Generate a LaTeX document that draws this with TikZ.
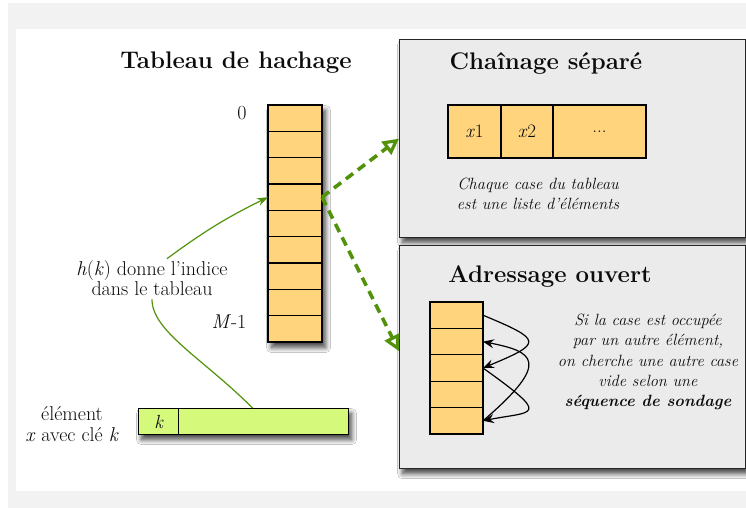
\documentclass[tikz,border=0pt]{standalone}
\usetikzlibrary{arrows.meta,shadows.blur,calc}

\definecolor{cellfill}{RGB}{255,212,125}
\definecolor{keyfill}{RGB}{213,249,122}
\definecolor{panelfill}{RGB}{235,235,235}
\definecolor{framegrey}{RGB}{242,242,242}
\definecolor{linkgreen}{RGB}{82,146,10}
\definecolor{ink}{RGB}{12,12,12}

\begin{document}
\begin{tikzpicture}[x=1pt,y=-1pt,
  softshadow/.style={blur shadow={shadow xshift=3pt, shadow yshift=-5pt,
      shadow blur radius=5pt, shadow blur steps=10, shadow opacity=75}},
  cellbox/.style={draw=black, line width=1.1pt, fill=cellfill, inner sep=0pt,
      outer sep=0pt, anchor=north west, minimum width=53pt},
  panelbox/.style={draw=black!85, line width=1.3pt, fill=panelfill, inner sep=0pt,
      anchor=north west, softshadow},
  titletext/.style={text=ink, font=\fontsize{24}{28}\selectfont\bfseries},
  bodytext/.style={text=ink, align=center, font=\fontsize{20}{20.5}\selectfont},
  notetext/.style={text=ink, align=center, font=\fontsize{16.3}{20.2}\selectfont\itshape},
  dashlink/.style={draw=linkgreen, line width=3.6pt, dash pattern=on 9pt off 6pt,
      -{Triangle[open, length=16pt, width=16pt, line width=3.2pt]}},
  hashlink/.style={draw=linkgreen, line width=1.2pt},
  probe/.style={draw=black, line width=1.2pt,
      -{Stealth[length=11pt, width=9pt, inset=4pt]}},
  ]

  % page frame
  \useasboundingbox (0,0) rectangle (746,508);
  \fill[white] (0,0) rectangle (746,508);
  \fill[framegrey] (8,3) rectangle (746,508);
  \fill[white] (16,29) rectangle (746,491);

  % ---------- hash table ----------
  \node[titletext] (ttab) at (236,63) {Tableau de hachage};
  \node[draw=black, line width=1.1pt, fill=cellfill, anchor=north west,
        minimum width=54pt, minimum height=237pt, inner sep=0pt, softshadow]
        (tab) at (268,105) {};
  \foreach \i in {0,...,8} {
    \node[cellbox, minimum width=54pt, minimum height=26.33pt]
      (c\i) at (268,{105+\i*26.33}) {};
  }
  \node[bodytext] (zero) at (242,113) {0};
  \node[bodytext] (mlast) at (229,322) {\textit{M}-1};

  % ---------- element with its key ----------
  \node[draw=black, line width=1.1pt, fill=keyfill, anchor=north west,
        minimum width=210pt, minimum height=26pt, inner sep=0pt, softshadow]
        (el) at (138,408) {};
  \node[draw=black, line width=1.1pt, fill=keyfill, anchor=north west,
        minimum width=40pt, minimum height=26pt, inner sep=0pt,
        font=\fontsize{19}{20}\selectfont\itshape, text=ink]
        (elk) at (138,408) {k};
  \node[bodytext] (ellab) at (72,424) {élément\\\textit{x} avec clé \textit{k}};

  % ---------- hash function ----------
  \node[bodytext, align=center] (hk) at (152,278)
        {\textit{h}(\textit{k}) donne l'indice\\dans le tableau};
  \draw[hashlink] ([xshift=9pt]el.north) .. controls +(-50,-50) and +(0,32) .. (hk.south);
  \draw[hashlink, -{Stealth[length=11pt, width=8pt]}]
        ([xshift=15pt,yshift=-2pt]hk.north) to[bend left=5] (c3.west);

  % ---------- separate chaining ----------
  \node[panelbox, minimum width=346pt, minimum height=198pt] (pch) at (399,39) {};
  \node[titletext] (tch) at (546,63) {Chaînage séparé};
  \node[cellbox, minimum width=53pt, minimum height=53pt,
        font=\fontsize{19}{20}\selectfont, text=ink] (x1) at (448,105) {\textit{x}1};
  \node[cellbox, minimum width=52pt, minimum height=53pt,
        font=\fontsize{19}{20}\selectfont, text=ink] (x2) at (501,105) {\textit{x}2};
  \node[cellbox, minimum width=93pt, minimum height=53pt,
        font=\fontsize{19}{20}\selectfont, text=ink] (xs) at (553,105) {...};
  \node[notetext] (chnote) at (538,194) {Chaque case du tableau\\est une liste d'éléments};

  % ---------- open addressing ----------
  \node[panelbox, minimum width=346pt, minimum height=223pt] (pao) at (399,245) {};
  \node[titletext] (tao) at (550,277) {Adressage ouvert};
  \node[draw=black, line width=1.1pt, fill=cellfill, anchor=north west,
        minimum width=53pt, minimum height=132pt, inner sep=0pt] (col) at (430,302) {};
  \foreach \i in {0,...,4} {
    \node[cellbox, minimum height=26.4pt] (p\i) at (430,{302+\i*26.4}) {};
  }
  \node[notetext] (aonote) at (648,362)
        {Si la case est occupée\\par un autre élément,\\on cherche une autre case\\vide selon une\\\textbf{séquence de sondage}};
  \draw[probe] (p0.east) .. controls +(60,25) and +(60,-25) .. (p2.east);
  \draw[probe] (p2.east) .. controls +(70,50) and +(50,-10) .. (p4.east);
  \draw[probe] (p4.east) .. controls +(70,-60) and +(50,10) .. (p1.east);

  % ---------- links from the table to both strategies ----------
  \draw[dashlink] (c3.east) -- (pch.west);
  \draw[dashlink] (c3.east) -- ([yshift=6pt]pao.west);
\end{tikzpicture}
\end{document}
